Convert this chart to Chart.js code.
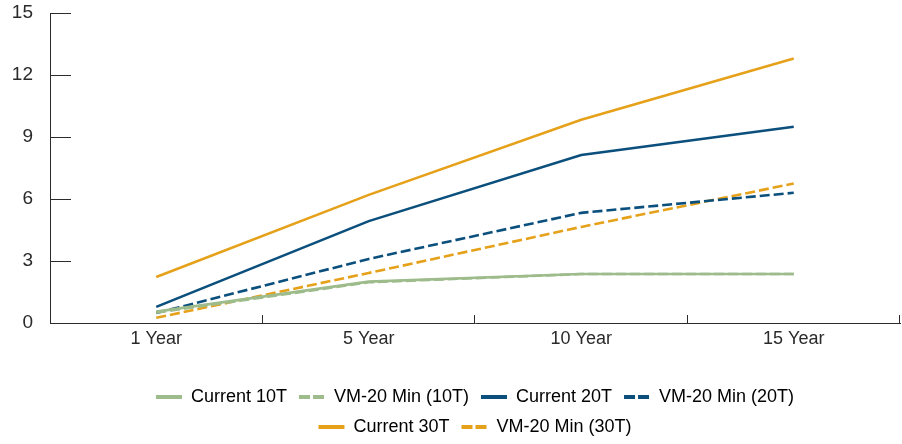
<!DOCTYPE html>
<html>
<head>
<meta charset="utf-8">
<script src="https://cdn.jsdelivr.net/npm/chart.js@4/dist/chart.umd.min.js"></script>
<style>
  html, body { margin: 0; padding: 0; background: #ffffff; }
  #wrap { width: 902px; height: 444px; }
</style>
</head>
<body>
<div id="wrap"><canvas id="chart" width="902" height="444"></canvas></div>
<script>
// Horizon categories
const categories = ['1 Year', '5 Year', '10 Year', '15 Year'];

// Series values
const current10T = [0.55, 2.0, 2.37, 2.37];
const vm20Min10T = [0.5, 1.97, 2.37, 2.37];
const current20T = [0.78, 4.93, 8.13, 9.5];
const vm20Min20T = [0.48, 3.1, 5.33, 6.3];
const current30T = [2.23, 6.2, 9.83, 12.8];
const vm20Min30T = [0.25, 2.42, 4.65, 6.75];

// Y-axis tick values
const yTicks = [0, 3, 6, 9, 12, 15];

const GREEN = '#9dbb8b';
const NAVY = '#0b4f7d';
const GOLD = '#e6a11a';
const AXIS = '#2b2b2b';
const TEXT = '#2a2a2a';
const FONT = 'Liberation Sans, Arial, sans-serif';
const DASH = [10, 4];

function series(label, data, color, dashed) {
  return {
    label: label,
    data: data,
    borderColor: color,
    backgroundColor: color,
    borderWidth: 2.6,
    borderDash: dashed ? DASH : [],
    pointRadius: 0,
    pointHoverRadius: 0,
    fill: false,
    tension: 0
  };
}

// Short inward tick marks on both axes
const innerTicks = {
  id: 'innerTicks',
  afterDraw(chart) {
    const {ctx, chartArea, scales} = chart;
    ctx.save();
    ctx.strokeStyle = AXIS;
    ctx.lineWidth = 1;
    const y = scales.y;
    y.ticks.forEach((t, i) => {
      const py = Math.round(y.getPixelForTick(i)) + 0.5;
      ctx.beginPath();
      ctx.moveTo(chartArea.left, py);
      ctx.lineTo(chartArea.left + 21, py);
      ctx.stroke();
    });
    const x = scales.x;
    const n = x.ticks.length;
    const step = (chartArea.right - chartArea.left) / n;
    for (let i = 1; i <= n; i++) {
      const px = Math.round(chartArea.left + step * i) - 0.5;
      ctx.beginPath();
      ctx.moveTo(px, chartArea.bottom);
      ctx.lineTo(px, chartArea.bottom - 8);
      ctx.stroke();
    }
    ctx.restore();
  }
};

// Legend rows wrap at a narrower width (four entries on the first row)
const legendRows = {
  id: 'legendRows',
  afterInit(chart) {
    const legend = chart.legend;
    if (!legend || legend._rowsPatched) return;
    const fit = legend.fit;
    legend.fit = function () {
      const full = this.maxWidth;
      this.maxWidth = Math.min(full, 780);
      fit.call(this);
      this.maxWidth = full;
      if (this.isHorizontal()) {
        this.width = full;
        this.height = this.height - 2;
      }
    };
    legend._rowsPatched = true;
  }
};

new Chart(document.getElementById('chart'), {
  type: 'line',
  data: {
    labels: categories,
    datasets: [
      series('Current 10T', current10T, GREEN, false),
      series('VM-20 Min (10T)', vm20Min10T, GREEN, true),
      series('Current 20T', current20T, NAVY, false),
      series('VM-20 Min (20T)', vm20Min20T, NAVY, true),
      series('Current 30T', current30T, GOLD, false),
      series('VM-20 Min (30T)', vm20Min30T, GOLD, true)
    ]
  },
  options: {
    responsive: false,
    animation: false,
    devicePixelRatio: 1,
    layout: { padding: { top: 13, right: 2, left: 0, bottom: 0 } },
    scales: {
      x: {
        offset: true,
        grid: { display: true, drawOnChartArea: false, drawTicks: false, offset: true },
        border: { display: true, color: AXIS, width: 1 },
        ticks: {
          padding: 5,
          color: TEXT,
          font: { family: FONT, size: 18 }
        },
        afterFit(scale) { scale.height = 53; }
      },
      y: {
        min: 0,
        max: 15,
        afterBuildTicks(scale) { scale.ticks = yTicks.map(v => ({ value: v })); },
        grid: { display: true, drawOnChartArea: false, drawTicks: false },
        border: { display: true, color: AXIS, width: 1 },
        ticks: {
          padding: 17,
          color: TEXT,
          font: { family: FONT, size: 19 }
        },
        afterFit(scale) {
          scale.width = 50;
          scale.paddingTop = 11;
          scale.paddingBottom = 0;
        }
      }
    },
    plugins: {
      legend: {
        position: 'bottom',
        fullSize: false,
        labels: {
          usePointStyle: true,
          pointStyle: 'line',
          pointStyleWidth: 26,
          padding: 12,
          color: TEXT,
          font: { family: FONT, size: 18 },
          generateLabels(chart) {
            return chart.data.datasets.map((ds, i) => ({
              text: ds.label,
              fillStyle: ds.borderColor,
              strokeStyle: ds.borderColor,
              lineWidth: 4,
              lineDash: ds.borderDash.length ? [11, 3] : [],
              pointStyle: 'line',
              hidden: false,
              datasetIndex: i
            }));
          }
        }
      },
      tooltip: { enabled: false }
    }
  },
  plugins: [innerTicks, legendRows]
});
</script>
</body>
</html>
